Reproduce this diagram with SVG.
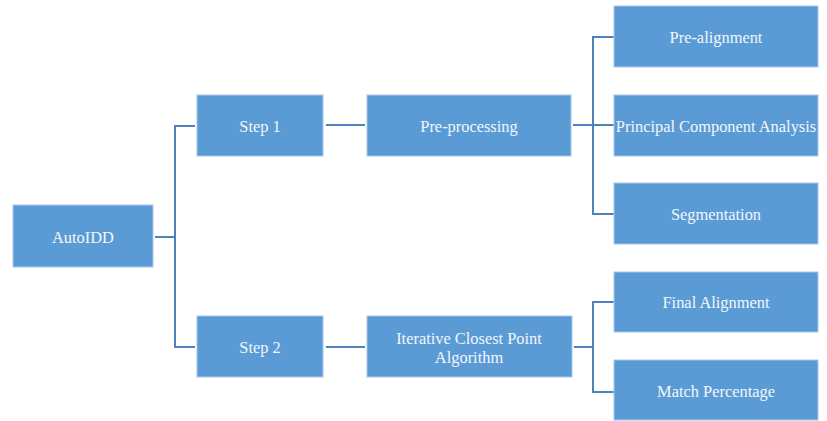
<svg xmlns="http://www.w3.org/2000/svg" width="827" height="421" viewBox="0 0 827 421">
<style>
.box{fill:#5B9BD5;stroke:#A9C7EA;stroke-width:1}
.lbl{font-family:"Liberation Serif","DejaVu Serif",serif;font-size:16.4px;fill:#F2F6FB;text-anchor:middle;dominant-baseline:central}
.con{fill:none;stroke:#4F81BD;stroke-width:2}
</style>
<rect width="827" height="421" fill="#FFFFFF"/>
<g id="connectors">
<path class="con" d="M155 237H175" stroke-width="3.5"/>
<path class="con" d="M195 126H175V347H195"/>
<path class="con" d="M326 125H365"/>
<path class="con" d="M326 347H365"/>
<path class="con" d="M573 125H614"/>
<path class="con" d="M614 37H593V214H614"/>
<path class="con" d="M574 347H593"/>
<path class="con" d="M614 302H593V392H614"/>
</g>
<g id="autoidd"><rect class="box" x="13" y="205" width="140" height="62"/><text class="lbl" x="83" y="237">AutoIDD</text></g>
<g id="step1"><rect class="box" x="197" y="95" width="126" height="61"/><text class="lbl" x="260" y="126">Step 1</text></g>
<g id="preprocessing"><rect class="box" x="367" y="95" width="204" height="61"/><text class="lbl" x="469" y="126">Pre-processing</text></g>
<g id="step2"><rect class="box" x="197" y="316" width="126" height="61"/><text class="lbl" x="260" y="347">Step 2</text></g>
<g id="icp"><rect class="box" x="367" y="316" width="205" height="61"/><text class="lbl" x="469" y="338">Iterative Closest Point</text><text class="lbl" x="469" y="357">Algorithm</text></g>
<g id="prealignment"><rect class="box" x="614" y="6" width="204" height="61"/><text class="lbl" x="716" y="37">Pre-alignment</text></g>
<g id="pca"><rect class="box" x="614" y="95" width="204" height="61"/><text class="lbl" x="716" y="126">Principal Component Analysis</text></g>
<g id="segmentation"><rect class="box" x="614" y="183" width="204" height="61"/><text class="lbl" x="716" y="214">Segmentation</text></g>
<g id="finalalignment"><rect class="box" x="614" y="272" width="204" height="60"/><text class="lbl" x="716" y="302">Final Alignment</text></g>
<g id="matchpercentage"><rect class="box" x="614" y="360" width="204" height="60"/><text class="lbl" x="716" y="391">Match Percentage</text></g>
</svg>
